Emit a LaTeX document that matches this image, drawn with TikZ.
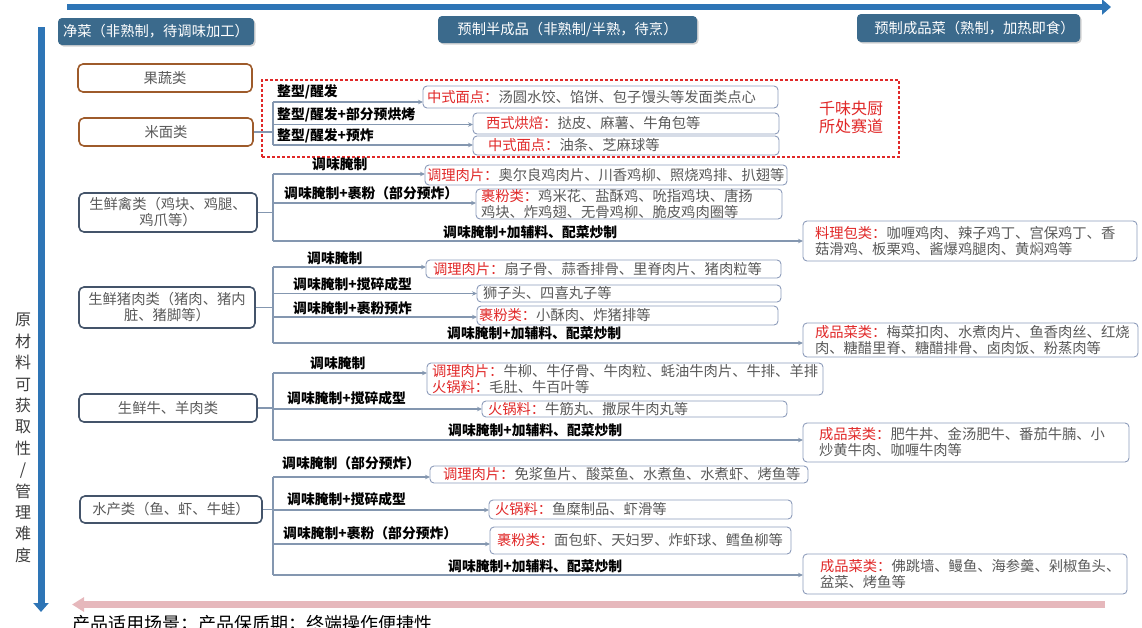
\documentclass[tikz,border=0pt]{standalone}
\usepackage{fontspec}
\setmainfont{Noto Sans CJK SC}
\usetikzlibrary{arrows.meta,shadows}
\definecolor{connc}{HTML}{8497B0}
\definecolor{boxb}{HTML}{8C9BBA}
\definecolor{darkb}{HTML}{44546A}
\definecolor{brownb}{HTML}{9E5B2B}
\definecolor{hdrc}{HTML}{3B6A8C}
\definecolor{bluea}{HTML}{2E75B6}
\definecolor{pinka}{HTML}{E6B8BC}
\definecolor{txtg}{HTML}{595959}
\definecolor{redc}{HTML}{E02828}
\newcommand{\fsbox}{\fontsize{14.3}{16}\selectfont}
\newcommand{\fslab}{\fontsize{13.8}{16}\selectfont\bfseries}
\newcommand{\hl}[1]{\textcolor{redc}{#1}}
\begin{document}
\begin{tikzpicture}[x=1pt,y=-1pt,
  hdr/.style={fill=hdrc, rounded corners=4pt, text=white, font=\fsbox, inner sep=0pt,
    drop shadow={shadow xshift=1.5pt,shadow yshift=-1.5pt,opacity=0.35}},
  src/.style={draw=darkb, line width=1.6pt, rounded corners=5pt, text=txtg, font=\fsbox,
    align=center, inner sep=0pt},
  srcb/.style={src, draw=brownb},
  res/.style={draw=boxb, line width=0.9pt, rounded corners=4pt, text=txtg, font=\fsbox,
    align=left, anchor=west, inner ysep=0pt, outer sep=0pt},
  lab/.style={font=\fslab, anchor=west, inner sep=0pt, text=black},
  conn/.style={draw=connc, line width=1.1pt},
  arr/.style={conn, -{Stealth[length=5pt,width=4.5pt]}},
  bigarrow/.style={draw=bluea, line width=6pt, -{Triangle[length=9pt,width=15pt]}}
]
\useasboundingbox (0,0) rectangle (1142,627);
\clip (0,0) rectangle (1142,627);

% axes arrows
\coordinate (ta) at (67,7); \coordinate (tb) at (1111,7);
\draw[bigarrow] (ta) -- (tb);
\coordinate (la) at (41,27); \coordinate (lb) at (41,612);
\draw[bigarrow, line width=7pt] (la) -- (lb);
\coordinate (pa) at (1105,604.5); \coordinate (pb) at (72,604.5);
\draw[draw=pinka, line width=7pt, -{Triangle[length=12pt,width=14pt]}] (pa) -- (pb);

% headers
\node[hdr, minimum width=196pt, minimum height=27pt] (h1) at (156,31.5) {净菜（非熟制，待调味加工）};
\node[hdr, minimum width=259pt, minimum height=27pt] (h2) at (567.5,29.5) {预制半成品（非熟制/半熟，待烹）};
\node[hdr, minimum width=223pt, minimum height=28pt] (h3) at (968.5,28) {\hspace*{12pt}预制成品菜（熟制，加热即食）};

% side text
\node[font=\fontsize{16}{21.4}\selectfont, text=txtg!70!black, align=center, inner sep=0pt] (side) at (23,438)
  {原\\材\\料\\可\\获\\取\\性\\/\\管\\理\\难\\度};

% bottom text
\node[font=\fontsize{18}{20}\selectfont, anchor=base west, inner sep=0pt] (bottom) at (72,630)
  {产品适用场景；产品保质期；终端操作便捷性};

% red dashed zone
\node[draw=redc, dashed, dash pattern=on 3pt off 2pt, line width=1.2pt, minimum width=637pt, minimum height=77pt, inner sep=0pt] (zone) at (580.5,118.5) {};
\node[text=redc, font=\fontsize{16}{18.5}\selectfont, align=left, inner sep=0pt] (qw) at (851,117.5) {千味央厨\\所处赛道};

% source nodes
\node[srcb, minimum width=174pt, minimum height=28pt] (guo) at (165,78) {果蔬类};
\node[srcb, minimum width=174pt, minimum height=28pt] (mian) at (166,132) {米面类};
\node[src, minimum width=178pt, minimum height=39pt] (qin) at (168,212.5) {生鲜禽类（鸡块、鸡腿、\\鸡爪等）};
\node[src, minimum width=176pt, minimum height=41pt] (zhu) at (167,307.5) {生鲜猪肉类（猪肉、猪内\\脏、猪脚等）};
\node[src, minimum width=178pt, minimum height=28pt] (niu) at (168,408) {生鲜牛、羊肉类};
\node[src, minimum width=182pt, minimum height=27pt] (shui) at (171,509.5) {水产类（鱼、虾、牛蛙）};

% result boxes: rice/flour
\node[res, minimum width=355pt, text width=347pt, inner xsep=4pt, minimum height=22pt] (r1) at (423,97) {\hl{中式面点：}汤圆水饺、馅饼、包子馒头等发面类点心};
\node[res, minimum width=306pt, text width=280pt, inner xsep=13pt, minimum height=21pt] (r2) at (473,123.5) {\hl{西式烘焙：}挞皮、麻薯、牛角包等};
\node[res, minimum width=306pt, text width=276pt, inner xsep=15pt, minimum height=19pt] (r3) at (473,145.5) {\hl{中式面点：}油条、芝麻球等};
% poultry
\node[res, minimum width=362pt, text width=358pt, inner xsep=2pt, minimum height=20pt] (p1) at (425,175) {\hl{调理肉片：}奥尔良鸡肉片、川香鸡柳、照烧鸡排、扒翅等};
\node[res, minimum width=306pt, text width=296pt, inner xsep=5pt, minimum height=30pt] (p2) at (476,204) {\hl{裹粉类：}鸡米花、盐酥鸡、吮指鸡块、唐扬\\鸡块、炸鸡翅、无骨鸡柳、脆皮鸡肉圈等};
\node[res, minimum width=334pt, text width=310pt, inner xsep=12pt, minimum height=40pt] (p3) at (803,241) {\hl{料理包类：}咖喱鸡肉、辣子鸡丁、宫保鸡丁、香\\菇滑鸡、板栗鸡、酱爆鸡腿肉、黄焖鸡等};
% pork
\node[res, minimum width=355pt, text width=341pt, inner xsep=7pt, minimum height=18pt] (z1) at (426,269) {\hl{调理肉片：}扇子骨、蒜香排骨、里脊肉片、猪肉粒等};
\node[res, minimum width=304pt, text width=292pt, inner xsep=6pt, minimum height=17pt] (z2) at (477,293.5) {狮子头、四喜丸子等};
\node[res, minimum width=301pt, text width=297pt, inner xsep=2pt, minimum height=19pt] (z3) at (477,315.5) {\hl{裹粉类：}小酥肉、炸猪排等};
\node[res, minimum width=335pt, text width=311pt, inner xsep=12pt, minimum height=34pt] (z4) at (803,340) {\hl{成品菜类：}梅菜扣肉、水煮肉片、鱼香肉丝、红烧\\肉、糖醋里脊、糖醋排骨、卤肉饭、粉蒸肉等};
% beef
\node[res, minimum width=396pt, text width=386pt, inner xsep=5pt, minimum height=32pt] (n1) at (427,379) {\hl{调理肉片：}牛柳、牛仔骨、牛肉粒、蚝油牛肉片、牛排、羊排\\\hl{火锅料：}毛肚、牛百叶等};
\node[res, minimum width=305pt, text width=293pt, inner xsep=6pt, minimum height=16pt] (n2) at (482,409) {\hl{火锅料：}牛筋丸、撒尿牛肉丸等};
\node[res, minimum width=326pt, text width=294pt, inner xsep=16pt, minimum height=39pt] (n3) at (803,442.5) {\hl{成品菜类：}肥牛丼、金汤肥牛、番茄牛腩、小\\炒黄牛肉、咖喱牛肉等};
% seafood
\node[res, minimum width=378pt, text width=352pt, inner xsep=13pt, minimum height=17pt] (s1) at (430,474.5) {\hl{调理肉片：}免浆鱼片、酸菜鱼、水煮鱼、水煮虾、烤鱼等};
\node[res, minimum width=303pt, text width=291pt, inner xsep=6pt, minimum height=19pt] (s2) at (489,509.5) {\hl{火锅料：}鱼糜制品、虾滑等};
\node[res, minimum width=301pt, text width=287pt, inner xsep=7pt, minimum height=27pt] (s3) at (490,540.5) {\hl{裹粉类：}面包虾、天妇罗、炸虾球、鳕鱼柳等};
\node[res, minimum width=324pt, text width=290pt, inner xsep=17pt, minimum height=40pt] (s4) at (803,574) {\hl{成品菜类：}佛跳墙、鳗鱼、海参羹、剁椒鱼头、\\盆菜、烤鱼等};

% connectors: rice/flour
\coordinate (ma) at (273,102); \coordinate (mb) at (273,124.5); \coordinate (mc) at (273,145);
\draw[conn] (mian.east) -- (mian.east -| ma);
\draw[conn] (ma) -- (mc);
\draw[arr] (ma) -- (ma -| r1.west);
\draw[arr] (mb) -- (mb -| r2.west);
\draw[arr] (mc) -- (mc -| r3.west);
\node[lab] (lm1) at (277,92) {整型/醒发};
\node[lab] (lm2) at (277,115) {整型/醒发+部分预烘烤};
\node[lab] (lm3) at (277,136) {整型/醒发+预炸};

% poultry
\coordinate (qa) at (273,174); \coordinate (qb) at (273,203); \coordinate (qc) at (273,241);
\draw[conn] (qin.east) -- (qin.east -| qa);
\draw[conn] (qa) -- (qc);
\draw[arr] (qa) -- (qa -| p1.west);
\draw[arr] (qb) -- (qb -| p2.west);
\draw[arr] (qc) -- (qc -| p3.west);
\node[lab] (lq1) at (312,164) {调味腌制};
\node[lab] (lq2) at (284,193) {调味腌制+裹粉（部分预炸）};
\node[lab] (lq3) at (443,232) {调味腌制+加辅料、配菜炒制};

% pork
\coordinate (za) at (273,267); \coordinate (zb) at (273,293.5); \coordinate (zc) at (273,317); \coordinate (zd) at (273,343);
\draw[conn] (zhu.east) -- (zhu.east -| za);
\draw[conn] (za) -- (zd);
\draw[arr] (za) -- (za -| z1.west);
\draw[arr] (zb) -- (zb -| z2.west);
\draw[arr] (zc) -- (zc -| z3.west);
\draw[arr] (zd) -- (zd -| z4.west);
\node[lab] (lz1) at (307,258) {调味腌制};
\node[lab] (lz2) at (293,284) {调味腌制+搅碎成型};
\node[lab] (lz3) at (293,308) {调味腌制+裹粉预炸};
\node[lab] (lz4) at (447,333) {调味腌制+加辅料、配菜炒制};

% beef
\coordinate (na) at (273,373); \coordinate (nb) at (273,409); \coordinate (nc) at (273,440);
\draw[conn] (niu.east) -- (niu.east -| na);
\draw[conn] (na) -- (nc);
\draw[arr] (na) -- (na -| n1.west);
\draw[arr] (nb) -- (nb -| n2.west);
\draw[arr] (nc) -- (nc -| n3.west);
\node[lab] (ln1) at (310,363) {调味腌制};
\node[lab] (ln2) at (287,398) {调味腌制+搅碎成型};
\node[lab] (ln3) at (448,430) {调味腌制+加辅料、配菜炒制};

% seafood
\coordinate (sa) at (273,477); \coordinate (sb) at (273,510); \coordinate (sc) at (273,544); \coordinate (sd) at (273,575);
\draw[conn] (shui.east) -- (shui.east -| sa);
\draw[conn] (sa) -- (sd);
\draw[arr] (sa) -- (sa -| s1.west);
\draw[arr] (sb) -- (sb -| s2.west);
\draw[arr] (sc) -- (sc -| s3.west);
\draw[arr] (sd) -- (sd -| s4.west);
\node[lab] (ls1) at (282,463) {调味腌制（部分预炸）};
\node[lab] (ls2) at (287,499) {调味腌制+搅碎成型};
\node[lab] (ls3) at (283,533) {调味腌制+裹粉（部分预炸）};
\node[lab] (ls4) at (448,566) {调味腌制+加辅料、配菜炒制};
\end{tikzpicture}
\end{document}
